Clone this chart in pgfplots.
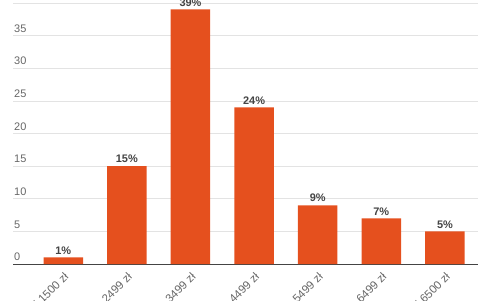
\documentclass[border=0pt]{standalone}
\usepackage{pgfplots}
\pgfplotsset{compat=1.18}
\usepackage{fontspec}
\setmainfont{Liberation Sans}
\definecolor{barc}{HTML}{E5501E}
\definecolor{tickc}{HTML}{666666}
\definecolor{gridc}{HTML}{E3E3E3}
\definecolor{axc}{HTML}{444444}
\begin{document}
\begin{tikzpicture}[x=1bp,y=1bp]
\useasboundingbox (0,0) rectangle (480,300);
\begin{axis}[
  at={(13bp,36bp)}, anchor=south west,
  scale only axis, width=465bp, height=264.3bp,
  xmin=-0.79, xmax=6.52, ymin=0, ymax=40.5,
  ybar, bar width=39.5bp,
  separate axis lines,
  axis x line*=bottom, axis y line*=left,
  y axis line style={draw=none},
  x axis line style={draw=axc, line width=0.8pt, -},
  major tick length=0pt,
  ytick={0,5,...,40},
  ymajorgrids, major grid style={draw=gridc, line width=0.6pt},
  yticklabel style={anchor=south west, font=\fontsize{11}{13}\selectfont, color=tickc, inner sep=1bp, yshift=2bp},
  /pgf/number format/assume math mode=true,
  xtick={0,...,6},
  xticklabels={poniżej 1500 zł, 1500--2499 zł, 2500--3499 zł, 3500--4499 zł, 4500--5499 zł, 5500--6499 zł, powyżej 6500 zł},
  xticklabel style={rotate=45, anchor=north east, font=\fontsize{11.5}{13}\selectfont, color=tickc, inner sep=1bp},
  xticklabel shift=6bp,
  nodes near coords={\pgfmathprintnumber{\pgfplotspointmeta}\%},
  nodes near coords style={font=\bfseries\fontsize{11}{13}\selectfont, color=axc, inner sep=2bp, yshift=1bp},
  clip=false,
]
\addplot[fill=barc, draw=none] coordinates {(0,1) (1,15) (2,39) (3,24) (4,9) (5,7) (6,5)};
\end{axis}
\end{tikzpicture}
\end{document}
